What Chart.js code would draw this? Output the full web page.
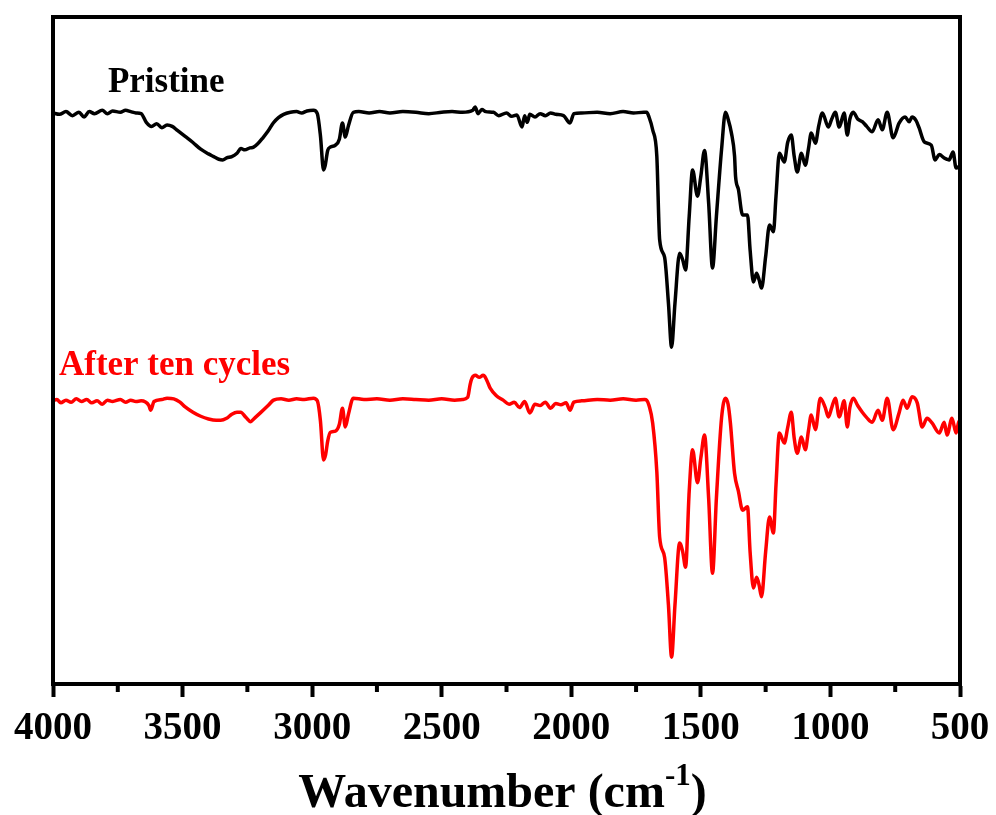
<!DOCTYPE html>
<html>
<head>
<meta charset="utf-8">
<script src="https://cdn.jsdelivr.net/npm/chart.js@4.4.1/dist/chart.umd.min.js"></script>
<style>
  html, body { margin: 0; padding: 0; background: #fff; }
  #wrap { width: 996px; height: 815px; }
</style>
</head>
<body>
<div id="wrap"><canvas id="ftir"></canvas></div>
<script>
// FTIR spectra, values (offset transmittance, a.u.)
const pristineWn = [4000, 3975, 3950, 3925, 3900, 3880, 3860, 3840, 3810, 3790, 3770, 3740, 3720, 3700, 3680, 3660,
  3640, 3620, 3600, 3580, 3560, 3540, 3520, 3490, 3460, 3430, 3400, 3380, 3360, 3345, 3330, 3310, 3290, 3275, 3260,
  3240, 3226, 3210, 3190, 3170, 3150, 3130, 3110, 3084, 3060, 3040, 3020, 2995, 2980, 2968, 2956, 2950, 2940, 2930,
  2910, 2895, 2883, 2872, 2860, 2841, 2820, 2780, 2740, 2700, 2650, 2600, 2550, 2500, 2460, 2420, 2380, 2371, 2360,
  2345, 2330, 2300, 2280, 2250, 2230, 2210, 2190, 2180, 2170, 2160, 2140, 2120, 2100, 2080, 2060, 2030, 2005, 1990,
  1960, 1900, 1850, 1800, 1760, 1720, 1709, 1700, 1686, 1670, 1659, 1640, 1625, 1613, 1600, 1582, 1570, 1559, 1545,
  1532, 1513, 1500, 1486, 1470, 1455, 1440, 1420, 1405, 1395, 1382, 1370, 1366, 1355, 1339, 1320, 1310, 1297, 1285,
  1275, 1266, 1250, 1235, 1220, 1210, 1197, 1178, 1165, 1151, 1140, 1128, 1112, 1097, 1085, 1074, 1058, 1045, 1031,
  1008, 995, 981, 966, 947, 935, 925, 912, 895, 877, 860, 839, 816, 800, 781, 758, 735, 712, 696, 685, 670, 658, 638,
  611, 596, 580, 561, 550, 542, 527, 515, 500];
const pristineT = [85.4, 85.2, 85.6, 85.0, 85.5, 84.8, 85.6, 85.3, 85.8, 85.3, 85.7, 85.5, 85.8, 85.6, 85.4, 85.3,
  84.0, 83.4, 83.8, 83.2, 83.6, 83.4, 82.8, 81.9, 81.0, 80.0, 79.3, 78.9, 78.5, 78.4, 78.7, 78.9, 79.4, 80.1, 79.9,
  80.2, 80.3, 80.8, 81.7, 82.7, 83.9, 84.7, 85.2, 85.5, 85.6, 85.4, 85.7, 85.8, 85.3, 82.0, 76.9, 77.5, 79.8, 80.3,
  80.6, 81.5, 83.9, 81.8, 83.5, 85.5, 85.6, 85.4, 85.6, 85.4, 85.6, 85.5, 85.3, 85.5, 85.6, 85.5, 85.8, 86.3, 85.3,
  85.9, 85.6, 85.5, 85.0, 85.4, 84.9, 85.1, 83.3, 85.0, 84.0, 85.2, 84.8, 85.3, 85.0, 85.4, 85.2, 85.0, 83.9, 85.3,
  85.4, 85.5, 85.3, 85.6, 85.4, 85.5, 85.5, 84.8, 82.9, 79.0, 66.5, 63.9, 57.0, 50.5, 57.0, 64.5, 63.5, 62.0, 70.0,
  76.9, 73.0, 76.0, 79.8, 72.0, 62.3, 70.0, 80.0, 85.5, 84.5, 82.4, 79.0, 75.9, 74.0, 70.2, 70.2, 65.0, 60.2, 61.5,
  60.5, 59.3, 64.0, 68.7, 67.7, 73.0, 79.4, 78.1, 81.0, 82.1, 79.0, 76.6, 79.4, 77.6, 80.0, 82.4, 80.9, 83.5, 85.4,
  83.3, 84.5, 85.5, 83.3, 85.4, 82.1, 84.5, 85.5, 84.5, 84.1, 83.4, 82.6, 84.4, 82.9, 85.5, 81.7, 83.9, 84.8, 84.1,
  84.8, 84.3, 83.2, 81.1, 80.6, 78.4, 79.2, 78.7, 78.5, 78.4, 79.6, 77.2, 77.5];

const cyclesWn = [4000, 3985, 3970, 3950, 3930, 3910, 3890, 3870, 3850, 3830, 3810, 3790, 3770, 3740, 3720, 3700,
  3680, 3660, 3630, 3623, 3610, 3580, 3560, 3534, 3510, 3490, 3460, 3430, 3400, 3370, 3353, 3330, 3310, 3290, 3276,
  3255, 3238, 3220, 3200, 3170, 3149, 3120, 3090, 3060, 3030, 2995, 2980, 2968, 2956, 2948, 2940, 2930, 2910, 2895,
  2883, 2872, 2860, 2841, 2800, 2750, 2700, 2650, 2600, 2550, 2500, 2450, 2420, 2400, 2390, 2383, 2370, 2355, 2340,
  2333, 2320, 2313, 2290, 2263, 2240, 2220, 2200, 2180, 2160, 2140, 2120, 2100, 2080, 2060, 2040, 2020, 2005, 1990,
  1960, 1900, 1850, 1800, 1750, 1717, 1709, 1700, 1686, 1670, 1659, 1640, 1625, 1613, 1600, 1582, 1570, 1559, 1545,
  1532, 1513, 1500, 1486, 1470, 1455, 1440, 1420, 1405, 1395, 1386, 1370, 1355, 1339, 1320, 1310, 1297, 1285, 1275,
  1266, 1250, 1235, 1220, 1210, 1197, 1178, 1165, 1151, 1140, 1128, 1112, 1097, 1085, 1074, 1058, 1039, 1020, 1008,
  995, 981, 966, 947, 935, 925, 912, 895, 877, 860, 839, 816, 800, 781, 758, 735, 720, 704, 685, 665, 646, 627, 608,
  580, 561, 550, 531, 515, 504, 500];
const cyclesT = [42.5, 42.7, 42.2, 42.6, 42.3, 42.8, 42.4, 42.7, 42.2, 42.5, 42.0, 42.6, 42.4, 42.7, 42.3, 42.6,
  42.4, 42.5, 41.8, 41.1, 42.4, 42.7, 42.9, 42.8, 42.3, 41.6, 40.8, 40.2, 39.8, 39.6, 39.6, 39.9, 40.5, 40.8, 40.8,
  40.0, 39.4, 40.0, 40.7, 41.8, 42.6, 42.8, 42.6, 42.8, 42.7, 42.9, 42.5, 39.5, 33.7, 34.5, 36.5, 37.8, 38.0, 39.0,
  41.4, 38.6, 40.5, 42.9, 42.7, 42.8, 42.6, 42.8, 42.7, 42.6, 42.8, 42.6, 42.7, 43.0, 45.0, 45.9, 46.3, 46.0, 46.3,
  46.1, 45.0, 44.4, 43.3, 42.6, 42.0, 42.3, 41.5, 42.4, 40.7, 42.0, 41.8, 42.3, 41.4, 42.1, 41.9, 42.2, 41.1, 42.3,
  42.5, 42.7, 42.6, 42.8, 42.6, 42.7, 42.6, 41.8, 39.2, 32.0, 22.2, 19.2, 12.0, 4.3, 12.0, 21.3, 20.0, 17.7, 29.0,
  35.2, 30.3, 34.0, 37.4, 28.0, 16.8, 28.0, 40.0, 42.9, 42.0, 39.2, 31.7, 29.0, 26.2, 26.7, 20.0, 14.6, 16.2, 15.0,
  13.3, 20.0, 25.2, 22.8, 30.0, 37.7, 36.2, 38.5, 40.8, 37.0, 34.7, 37.1, 35.2, 38.0, 40.4, 38.2, 42.9, 41.5, 40.1,
  41.5, 42.9, 40.1, 42.5, 38.6, 41.5, 42.9, 41.8, 40.8, 40.0, 39.3, 41.1, 39.6, 42.9, 38.2, 40.7, 42.6, 41.4, 43.1,
  42.2, 38.6, 39.9, 39.2, 37.7, 39.3, 37.4, 39.9, 37.7, 39.5, 38.5];

const xTicks = [4000, 3500, 3000, 2500, 2000, 1500, 1000, 500];
const minorTicks = [3750, 3250, 2750, 2250, 1750, 1250, 750];

const serif = "'Times New Roman', 'Liberation Serif', serif";

// frame, minor ticks, curve labels and the axis title with superscript
const decorPlugin = {
  id: 'decor',
  afterDraw(chart) {
    const { ctx, chartArea: a, scales } = chart;
    ctx.save();
    ctx.strokeStyle = '#000';
    ctx.lineWidth = 4;
    ctx.strokeRect(a.left, a.top, a.right - a.left, a.bottom - a.top);

    minorTicks.forEach(v => {
      const px = scales.x.getPixelForValue(v);
      ctx.beginPath();
      ctx.moveTo(px, a.bottom);
      ctx.lineTo(px, a.bottom + 8);
      ctx.stroke();
    });

    ctx.font = 'bold 35px ' + serif;
    ctx.textAlign = 'left';
    ctx.textBaseline = 'alphabetic';
    ctx.fillStyle = '#000';
    ctx.fillText('Pristine', scales.x.getPixelForValue(3788), scales.y.getPixelForValue(88.5));
    ctx.fillStyle = '#ff0000';
    ctx.fillText('After ten cycles', scales.x.getPixelForValue(3977), scales.y.getPixelForValue(46.3));

    // axis title
    const big = 'bold 48px ' + serif;
    const small = 'bold 31px ' + serif;
    const t1 = 'Wavenumber (cm', t2 = '-1', t3 = ')';
    ctx.font = big;
    const w1 = ctx.measureText(t1).width, w3 = ctx.measureText(t3).width;
    ctx.font = small;
    const w2 = ctx.measureText(t2).width;
    let x = (a.left + a.right) / 2 - (w1 + w2 + w3) / 2 - 4;
    const base = 807;
    ctx.fillStyle = '#000';
    ctx.font = big;
    ctx.fillText(t1, x, base);
    x += w1;
    ctx.font = small;
    ctx.fillText(t2, x, base - 22);
    x += w2;
    ctx.font = big;
    ctx.fillText(t3, x, base);
    ctx.restore();
  }
};

new Chart(document.getElementById('ftir'), {
  type: 'line',
  data: {
    datasets: [
      {
        label: 'Pristine',
        data: pristineWn.map((w, i) => ({ x: w, y: pristineT[i] })),
        borderColor: '#000000',
        borderWidth: 3.5,
        pointRadius: 0,
        cubicInterpolationMode: 'monotone'
      },
      {
        label: 'After ten cycles',
        data: cyclesWn.map((w, i) => ({ x: w, y: cyclesT[i] })),
        borderColor: '#ff0000',
        borderWidth: 3.5,
        pointRadius: 0,
        cubicInterpolationMode: 'monotone'
      }
    ]
  },
  options: {
    responsive: true,
    maintainAspectRatio: false,
    animation: false,
    layout: { padding: { top: 17, right: 36, left: 0, bottom: 0 } },
    plugins: {
      legend: { display: false },
      tooltip: { enabled: false }
    },
    scales: {
      x: {
        type: 'linear',
        reverse: true,
        min: 500,
        max: 4000,
        afterBuildTicks: scale => { scale.ticks = xTicks.map(v => ({ value: v })); },
        afterFit: scale => {
          scale.height = 131;
          scale.paddingLeft = 0;
          scale.paddingRight = 0;
        },
        ticks: {
          color: '#000',
          padding: 9,
          maxRotation: 0,
          autoSkip: false,
          callback: value => String(value),
          font: { family: serif, size: 39, weight: 'bold' }
        },
        grid: {
          drawOnChartArea: false,
          drawTicks: true,
          tickLength: 13,
          tickWidth: 4,
          tickColor: '#000'
        },
        border: { display: true, color: '#000', width: 4 }
      },
      y: {
        min: 0.3,
        max: 99.7,
        afterFit: scale => { scale.width = 53; },
        ticks: { display: false },
        grid: { display: false, drawTicks: false },
        border: { display: true, color: '#000', width: 4 }
      }
    }
  },
  plugins: [decorPlugin]
});
</script>
</body>
</html>
